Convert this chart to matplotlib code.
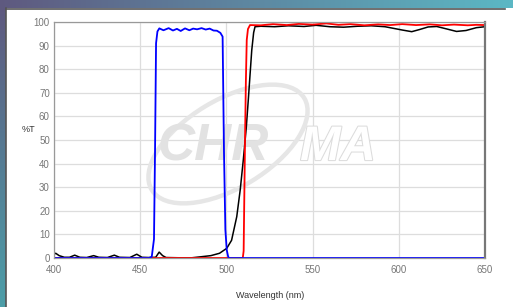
import numpy as np
import matplotlib
matplotlib.use("Agg")
import matplotlib.pyplot as plt
import matplotlib.patheffects as pe
from matplotlib.patches import Ellipse

plt.rcParams['font.family'] = ['Liberation Sans', 'DejaVu Sans']

# spectra (wavelength nm, %T)
blue_wl = [400, 455, 456.7, 458, 458.6, 459.2, 460, 461.1, 463.5, 466.5, 469, 471.3, 473.5,
           476, 478.5, 480.7, 483, 485.6, 488, 490.3, 492.5, 494.5, 496.5, 497.8, 498.6,
           499.4, 500.2, 501.1, 502, 650]
blue_t = [0, 0, 0.5, 8, 45, 91, 96, 97.3, 96.5, 97.4, 96.4, 97.1, 96.2, 97.3, 96.5, 97.2,
          96.9, 97.4, 96.8, 97.2, 96.4, 96.3, 95.4, 93.8, 45, 12, 3.4, 0.3, 0, 0]

red_wl = [400, 509.5, 510, 510.8, 511.3, 511.8, 512.5, 513.7, 520, 527, 535, 542, 550, 558,
          565, 572, 580, 588, 595, 602, 610, 618, 625, 632, 640, 645, 650]
red_t = [0, 0, 3, 50, 75, 92.4, 97, 98.7, 98.6, 99.1, 98.7, 99.2, 98.9, 99.4, 98.8, 99.1,
         98.6, 99.0, 98.7, 99.1, 98.7, 99.0, 98.6, 98.9, 98.6, 98.8, 98.7]

black_wl = [400, 401, 403, 406, 409, 412, 415, 419, 423, 426, 431, 435, 438, 444, 448, 451,
            455, 459, 461, 463, 465, 472, 480, 485, 491, 496, 500.2, 503, 506, 508, 509.8,
            511.5, 512.7, 514.7, 515.8, 516.6, 520, 528, 536, 545, 552, 560, 568, 576, 584,
            592, 597, 602, 607.5, 612, 617, 622, 627, 633.5, 639, 645, 650]
black_t = [1.6, 2.0, 1.0, 0.3, 0.3, 1.2, 0.3, 0.2, 1.0, 0.3, 0.2, 1.2, 0.3, 0.2, 1.6, 0.3,
           0.2, 0.3, 2.5, 1.0, 0.2, 0.1, 0.1, 0.5, 1.0, 2.0, 4.1, 7.5, 17.5, 28.8, 41.5,
           55, 67, 88, 95.5, 98, 98.2, 98.0, 98.4, 98.1, 98.6, 98.0, 97.8, 98.2, 98.4,
           98.0, 97.3, 96.6, 95.9, 96.8, 97.9, 98.1, 97.2, 96.0, 96.4, 97.6, 98.0]

x_ticks = [400, 450, 500, 550, 600, 650]
y_ticks = [0, 10, 20, 30, 40, 50, 60, 70, 80, 90, 100]

W, H = 513, 307
fig = plt.figure(figsize=(W / 100, H / 100), dpi=100, facecolor='white')

# screenshot surroundings: gradient strips along top and left edge
top_strip = fig.add_axes([0, 1 - 8 / H, 1, 8 / H])
grad = np.linspace(0, 1, 256)
c0 = np.array([0.37, 0.35, 0.50])
c1 = np.array([0.36, 0.72, 0.77])
top_img = (c0[None, :] * (1 - grad[:, None]) + c1[None, :] * grad[:, None])[None, :, :]
top_strip.imshow(top_img, aspect='auto', extent=[0, 1, 0, 1])
top_strip.axis('off')

left_strip = fig.add_axes([0, 0, 6 / W, 1 - 8 / H])
c2 = np.array([0.30, 0.62, 0.66])
left_img = (c0[None, :] * (1 - grad[:, None]) + c2[None, :] * grad[:, None])[:, None, :]
left_strip.imshow(left_img, aspect='auto', extent=[0, 1, 0, 1])
left_strip.axis('off')

# panel border
fig.add_artist(plt.Line2D([6 / W, 6 / W], [0, 1 - 8 / H], color='#555555', lw=1.2,
                          transform=fig.transFigure))
fig.add_artist(plt.Line2D([6 / W, 505 / W], [1 - 9 / H, 1 - 9 / H], color='#555555', lw=1.2,
                          transform=fig.transFigure))

ax = fig.add_axes([54 / W, 1 - 258 / H, 431 / W, 236 / H])
ax.set_xlim(400, 650)
ax.set_ylim(0, 100)
ax.set_xticks(x_ticks)
ax.set_yticks(y_ticks)
ax.grid(True, color='#dddddd', lw=0.9)
ax.set_axisbelow(True)
ax.tick_params(length=0, labelsize=7, colors='#777777')
ax.tick_params(axis='x', pad=5)
ax.tick_params(axis='y', pad=3)

# CHROMA watermark
ax.add_patch(Ellipse((2.28, 1.63), 1.78, 0.88, angle=31, transform=fig.dpi_scale_trans,
                     fill=False, edgecolor='#e6e6e6', lw=3.2, zorder=0.8))
ax.text(0.241, 0.415, 'CHR', transform=ax.transAxes, fontsize=37, fontweight='bold',
        fontstyle='italic', color='#e2e2e2', ha='left', va='baseline', zorder=0.9)
ax.text(0.571, 0.415, 'MA', transform=ax.transAxes, fontsize=35, fontweight='bold',
        fontstyle='italic', color='white', ha='left', va='baseline', zorder=0.9,
        path_effects=[pe.withStroke(linewidth=1.5, foreground='#dcdcdc')])

ax.plot(black_wl, black_t, color='black', lw=1.1)
ax.plot(red_wl, red_t, color='#ff0000', lw=1.3)
ax.plot(blue_wl, blue_t, color='#0000ff', lw=1.3)

for side in ['left', 'bottom', 'top']:
    ax.spines[side].set_color('#999999')
    ax.spines[side].set_linewidth(0.9)
ax.spines['right'].set_color('#777777')
ax.spines['right'].set_linewidth(1.6)

fig.text(28 / W, 1 - 130 / H, '%T', fontsize=6.5, color='#333333', ha='center',
         va='center')
fig.text(270 / W, 1 - 296 / H, 'Wavelength (nm)', fontsize=6.5, color='#333333',
         ha='center', va='center')

fig.savefig('out.png', dpi=100, facecolor='white')
